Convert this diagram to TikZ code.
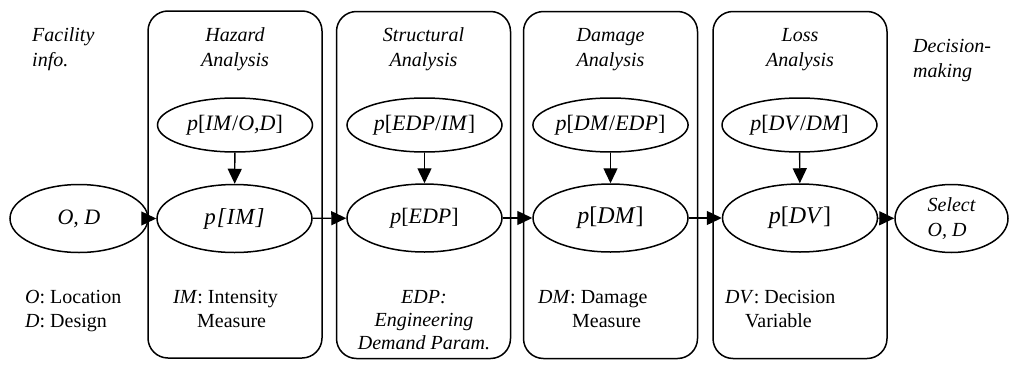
\documentclass[tikz,border=0pt]{standalone}
\usepackage{fontspec}
\setmainfont{Liberation Serif}
\usetikzlibrary{arrows.meta,shapes.geometric}

\begin{document}
\begin{tikzpicture}[x=1pt,y=-1pt,
  every node/.style={inner sep=0pt, font=\fontsize{20}{24}\selectfont},
  stage/.style={draw, line width=1.5pt, rounded corners=20pt, minimum width=174pt, minimum height=347pt},
  prob/.style={draw, ellipse, line width=1.5pt, inner sep=0pt, minimum width=155pt, font=\fontsize{22}{26}\selectfont},
  upper/.style={prob, minimum height=54pt},
  lower/.style={prob, minimum height=68pt},
  link/.style={line width=1.4pt, -{Triangle[length=15pt,width=14pt]}},
  title/.style={align=center, anchor=base, font=\itshape\fontsize{20}{25}\selectfont},
  note/.style={align=left, anchor=base west}
]
\useasboundingbox (0,0) rectangle (1009,364);

% analysis stages
\node[stage] (hazard) at (235,184.5) {};
\node[stage] (struct) at (423.5,185) {};
\node[stage] (damage) at (610.5,185) {};
\node[stage] (loss) at (800,185) {};

% stage titles (anchored at the baseline of the last line)
\node[note, font=\itshape\fontsize{20}{25}\selectfont] (facility) at (32,66) {Facility\\info.};
\node[title] (thaz) at (235,66) {Hazard\\Analysis};
\node[title] (tstr) at (423.5,66) {Structural\\Analysis};
\node[title] (tdam) at (610.5,66) {Damage\\Analysis};
\node[title] (tloss) at (800,66) {Loss\\Analysis};
\node[note, font=\itshape\fontsize{20}{25}\selectfont] (decision) at (913,77) {Decision-\\making};

% conditional probabilities
\node[upper] (pimod) at (235,125) {\textit{p}[\textit{IM}/\textit{O,D}]};
\node[upper] (pedpim) at (424.5,125) {\textit{p}[\textit{EDP}/\textit{IM}]};
\node[upper] (pdmedp) at (610.5,125) {\textit{p}[\textit{DM}/\textit{EDP}]};
\node[upper] (pdvdm) at (799.5,125) {\textit{p}[\textit{DV}/\textit{DM}]};

% main chain
\node[lower, minimum width=138pt] (od) at (79,218.5) {\textit{O, D}};
\node[lower, font=\itshape\fontsize{23}{27}\selectfont] (pim) at (234.5,218.5) {p\kern1pt[\kern1pt I\kern1pt M\kern1pt]};
\node[lower] (pedp) at (424.5,218) {\textit{p}[\textit{EDP}]};
\node[lower, font=\fontsize{24}{28}\selectfont] (pdm) at (610.5,218) {\textit{p}[\textit{DM}]};
\node[lower, font=\fontsize{24}{28}\selectfont] (pdv) at (800,218) {\textit{p}[\textit{DV}]};
\node[lower, minimum width=113pt, align=left, font=\itshape\fontsize{20}{25}\selectfont] (select) at (951.5,218.5) {Select\\O, D};

\draw[link] (od) -- (pim);
\draw[link] (pim) -- (pedp);
\draw[link] (pedp) -- (pdm);
\draw[link] (pdm) -- (pdv);
\draw[link] (pdv) -- (select);

\draw[link] (pimod) -- (pim);
\draw[link] (pedpim) -- (pedp);
\draw[link] (pdmedp) -- (pdm);
\draw[link] (pdvdm) -- (pdv);

% variable definitions (anchored at the baseline of the last line)
\node[note] (vod) at (25,327) {\textit{O}: Location\\\textit{D}: Design};
\node[note] (vim) at (173,327) {\textit{IM}: Intensity\\\hspace*{24pt}Measure};
\node[title, font=\itshape\fontsize{20}{23}\selectfont] (vedp) at (424,349) {EDP:\\Engineering\\Demand Param.};
\node[note] (vdm) at (538,327) {\textit{DM}: Damage\\\hspace*{34pt}Measure};
\node[note] (vdv) at (725,327) {\textit{DV}: Decision\\\hspace*{20pt}Variable};
\end{tikzpicture}
\end{document}
